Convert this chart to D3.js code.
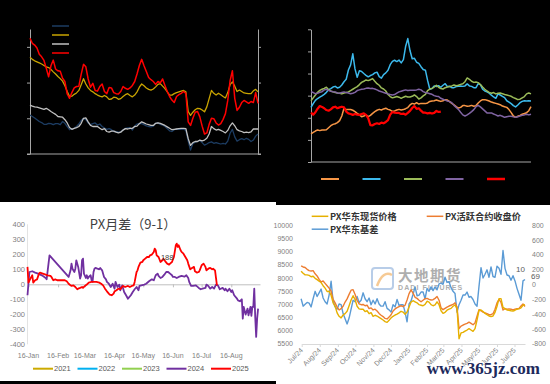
<!DOCTYPE html>
<html>
<head>
<meta charset="utf-8">
<script src="https://cdn.jsdelivr.net/npm/d3@7"></script>
<style>
  html, body { margin: 0; padding: 0; background: #000; }
  svg { display: block; }
</style>
</head>
<body>
<svg id="chart" width="550" height="384"></svg>
<script>
// ---------- top left: four price series on black (labels are black on black) ----------
const tlNavy = [1090,1050,1010,960,910,880,830,830,860,850,820,850,850,820,910,860,770,680,710,720,770,840,940,1000,960,870,820,850,870,810,840,770,730,690,710,680,630,630,610,620,670,720,730,740,670,780,840,860,850,820,790,770,760,780,860,870,830,810,770,710,650,630,680,700,690,690,700,660,360,110,290,330,350,380,320,250,280,320,340,300,320,300,280,300,280,360,580,690,480,360,400,430,400,440,410,350,390,500,560];
const tlGold = [2710,2650,2610,2580,2550,2520,2480,2440,2420,2370,2300,2240,2170,2110,2040,1910,1750,1610,1620,1670,1710,1780,1940,2110,1960,1850,1780,1740,1690,1650,1620,1600,1640,1600,1530,1540,1590,1580,1530,1550,1610,1660,1690,1640,1600,1650,1740,1870,1960,1910,1850,1810,1790,1820,1880,1950,1970,1900,1830,1740,1650,1650,1690,1720,1740,1760,1780,1740,1190,1080,1170,1240,1280,1270,1230,1180,1320,1550,1780,1700,1650,1700,1660,1610,1570,1720,1940,2020,1900,1750,1790,1750,1710,1700,1690,1690,1770,1810,1740];
const tlSilver = [1370,1340,1320,1310,1290,1270,1250,1280,1240,1190,1150,1110,1050,1040,1030,960,870,740,690,720,740,770,860,1000,1010,900,800,770,770,770,720,680,710,630,610,640,640,610,590,610,670,710,700,720,720,770,780,850,900,870,840,820,800,800,860,870,860,830,800,760,720,680,690,700,710,720,720,710,430,240,320,350,350,390,370,390,440,560,770,710,670,690,660,630,590,660,790,870,790,680,650,630,600,610,600,620,700,700,700];
const tlRed = [3240,3100,3050,2970,2790,2720,2620,2400,2160,2470,2630,2380,2330,2320,2120,2030,1680,1560,1720,1850,1890,1900,2230,2510,2440,2100,1870,1980,1780,1760,1890,1960,1750,1690,1860,1850,1720,1690,1680,1750,1890,1840,1810,1850,1920,2030,2240,2480,2650,2470,2310,2140,2080,2030,1950,2030,1990,2100,1920,1750,1610,1510,1440,1610,1660,1700,1750,1700,900,800,1000,1170,1190,1040,780,560,590,830,1000,990,870,810,850,970,1130,1500,2050,2330,1560,1220,1310,1440,1500,1460,1420,1470,1440,1720,1420];
const tlTicks = [0, 1000, 2000, 3000];

// ---------- top right: five yearly series ----------
const trOrange = [127,134,140,145,142,145,145,146,155,164,170,173,178,187,208,243,237,237,237,234,228,220,213,205,208,213,205,211,220,228,234,238,235,240,243,238,235,229,231,235,238,235,237,241,246,258,265,262,268,262,265,264,264,267,274,276,277,280,277,274,277,282,280,273,265,258,250,244,247,255,255,252,253,256,252,255,267,276,282,282,279,276,271,268,265,262,259,253,250,247,237,223,208,202,207,211,216,219,223,232,250];
const trBlue = [247,264,279,287,293,299,306,315,327,332,339,342,335,338,348,363,374,416,439,489,421,383,413,409,400,392,385,391,395,403,406,386,379,395,403,415,440,455,460,454,461,448,463,522,558,504,467,469,451,446,431,418,415,369,329,332,344,341,345,338,347,354,341,342,336,336,341,342,344,342,344,353,344,342,336,336,354,350,329,321,317,311,302,294,288,308,303,297,291,277,271,264,255,249,258,268,274,277,276,277,276];
const trGreen = [277,290,303,315,324,329,333,338,327,321,317,314,312,311,308,312,314,317,323,329,335,341,350,360,365,371,368,372,377,365,354,347,335,330,321,305,296,290,293,296,293,288,293,297,294,294,297,303,296,285,290,299,306,323,330,333,339,347,338,332,330,336,339,341,344,348,345,347,351,354,363,380,374,365,360,362,359,350,339,329,321,315,311,314,308,311,312,309,305,303,300,297,291,287,282,284,290,296,308,312,308];
const trPurple = [318,314,309,311,315,318,326,329,324,320,318,317,312,311,314,317,314,312,309,311,315,323,326,329,330,333,335,332,333,330,326,321,318,314,311,308,305,303,305,311,317,320,323,326,323,324,324,324,326,329,326,318,314,312,309,306,300,297,296,288,284,280,276,273,268,256,247,238,225,213,208,213,220,228,237,250,256,249,240,231,222,222,222,217,213,208,211,207,202,205,207,207,204,202,205,208,211,213,216,213,216];
const trRed = [223,214,225,241,253,249,243,235,232,238,247,250,243,247,250,247,228,220,217,213,217,214,213,217,220,213,198,167,166,172,175,172,178,175,181,189,214,226,223,222,222,217,219,214,222,231,244,253,240,243,232,223,223,220,222,219,222,231,226,228];
const trTicks = [0, 100, 200, 300, 400, 500, 600];

// ---------- bottom left: PX月差（9-1） ----------
const blYears = ["2021", "2022", "2023", "2024", "2025"];
const bl2024Dates = ["01-15","01-17","01-20","01-23","01-26","01-30","02-03","02-04","02-07","02-27","03-01","03-02","03-03","03-05","03-06","03-07","03-09","03-11","03-12","03-13","03-14","03-15","03-17","03-18","03-19","03-20","03-22","03-23","03-24","03-25","03-26","03-27","03-29","03-31","04-01","04-03","04-05","04-07","04-08","04-10","04-12","04-14","04-16","04-17","04-19","04-21","04-22","04-24","04-26","04-28","04-30","05-03","05-05","05-07","05-09","05-11","05-12","05-14","05-17","05-19","05-22","05-25","05-27","05-29","05-31","06-01","06-03","06-05","06-07","06-09","06-11","06-13","06-15","06-16","06-18","06-20","06-22","06-25","06-28","06-30","07-02","07-03","07-05","07-07","07-10","07-13","07-15","07-17","07-20","07-21","07-23","07-25","07-27","07-29","07-31","08-02","08-04","08-07","08-09","08-10","08-12","08-14","08-16","08-17","08-19","08-22","08-23","08-25","08-27","08-28","08-29","08-31","09-02","09-03","09-05","09-06","09-07","09-08","09-09","09-10","09-11","09-12","09-13"];
const bl2024Values = [-73,82,87,78,71,60,42,33,193,49,93,138,104,82,104,160,116,38,60,160,171,71,42,60,38,49,60,27,16,82,104,109,104,100,109,93,49,33,16,4,-18,4,-29,16,-18,-2,-40,-7,-51,-73,-96,-73,-51,-33,-18,-40,-11,-7,-2,4,20,33,27,60,71,56,42,49,64,82,82,71,60,49,49,42,49,56,51,60,42,16,-11,-11,-7,-24,-33,-29,-24,-2,-11,-29,-18,-29,-2,-7,-33,-24,-40,-29,-47,-29,-51,-40,-73,-96,-107,-113,-100,-229,-151,-202,-162,-207,-151,-211,-151,-151,-29,-218,-351,-229,-162];
const bl2025Dates = ["01-15","01-16","01-18","01-20","01-21","01-23","01-25","01-27","01-28","01-31","02-03","02-05","02-08","02-09","02-11","02-13","02-15","02-18","02-21","02-23","02-25","02-27","03-01","03-02","03-04","03-06","03-08","03-09","03-11","03-13","03-14","03-16","03-18","03-20","03-23","03-25","03-28","03-31","04-02","04-04","04-06","04-08","04-10","04-11","04-13","04-15","04-16","04-18","04-20","04-22","04-23","04-25","04-27","04-29","04-30","05-02","05-04","05-06","05-07","05-08","05-09","05-10","05-11","05-13","05-15","05-16","05-18","05-20","05-22","05-23","05-25","05-27","05-28","05-29","05-30","06-01","06-03","06-05","06-06","06-08","06-10","06-12","06-13","06-15","06-17","06-19","06-20","06-21","06-22","06-24","06-25","06-27","06-29","07-01","07-02","07-04","07-06","07-08","07-09","07-11","07-13","07-14","07-16","07-18","07-20","07-21","07-23","07-25","07-27","07-28","07-30","08-01"];
const bl2025Values = [116,11,38,60,11,27,33,71,78,71,64,60,56,49,27,33,27,27,27,27,20,4,-7,-11,-7,-18,-33,-29,-24,-18,-24,-11,-2,11,16,16,16,11,4,-7,-29,-47,-62,-69,-73,-62,-47,-40,-29,-33,-24,-11,-18,-13,-11,-18,-11,-7,16,49,82,93,116,144,149,160,171,182,182,193,198,216,238,227,193,182,149,160,171,153,138,131,138,149,182,260,271,249,260,227,216,204,182,160,138,100,109,116,87,78,82,93,127,138,116,93,104,109,100,104,93,-7];
const blTicks = [-400, -300, -200, -100, 0, 100, 200, 300, 400];
const blNote = { date: "06-10", value: 182, text: "188" };

// ---------- bottom right: PX spot, futures and basis ----------
const brNames = ["PX华东现货价格", "PX活跃合约收盘价", "PX华东基差"];
const brFirstDay = "2024-06-30", brLastDay = "2025-07-19";
const brSpot = [8260,8180,8120,8120,8100,8050,8070,7990,7940,7880,7830,7710,7620,7490,7500,7350,7060,6940,6680,6550,6490,6600,6650,6740,6950,7170,7330,7180,6930,6830,6820,6820,6730,6760,6650,6690,6550,6590,6560,6510,6460,6410,6350,6320,6400,6490,6550,6600,6630,6680,6740,6710,6630,6710,6900,7090,7140,7100,7060,6990,6970,6950,7000,7120,7090,6990,6950,6980,7100,6990,6760,6660,6700,6780,6820,6850,6930,6980,6840,5700,5920,5940,5990,6030,6080,6030,5980,6080,6410,6780,6790,6730,6660,6610,6560,6540,6560,6700,6930,7220,7220,6890,6840,6790,6780,6760,6750,6780,6820,6830,6870,6970,6990];
const brFutures = [8460,8420,8400,8330,8280,8270,8280,8160,8080,7950,7850,7890,7800,7710,7620,7500,7190,7060,6900,6790,6840,6930,7090,7210,7380,7540,7560,7380,7160,7020,6990,7000,6950,6970,6840,6870,6790,6820,6750,6660,6590,6540,6470,6450,6520,6610,6750,6830,6880,6920,6950,6920,6970,7170,7410,7550,7430,7270,7230,7160,7100,7160,7220,7230,7190,7170,7180,7230,7300,7160,6870,6800,6850,6900,6940,6970,7000,7060,6900,6080,6180,6220,6250,6280,6330,6280,6230,6300,6550,6800,6760,6710,6680,6650,6610,6610,6650,6820,7060,7190,7080,6790,6840,6820,6830,6820,6790,6820,6840,6850,6940,7020,6920];
const brBasis = [-190,-290,-265,-240,-250,-300,-190,-90,-160,-110,-60,-180,-230,-260,-140,45,-220,-300,-330,-260,-270,-390,-460,-530,-450,-330,-210,-230,-160,-240,-210,-110,-190,-230,-180,-270,-210,-260,-190,-260,-290,-290,-230,-320,-340,-370,-270,-300,-200,-280,-270,-270,-370,-500,-260,-220,-130,-30,-150,-140,-100,-100,-190,-50,-90,-30,-80,-30,-70,10,20,5,100,30,40,-40,-90,-120,-370,-270,-210,-140,-140,-100,-170,-160,-200,-260,-290,-20,230,90,140,200,100,240,110,100,250,220,140,460,220,130,120,60,120,50,-50,-130,-210,50,69];
const brPriceTicks = [5500,6000,6500,7000,7500,8000,8500,9000,9500,10000];
const brBasisTicks = [-800,-600,-400,-200,0,200,400,600,800];

// ---------- drawing ----------
const sans = "'Liberation Sans', Arial, sans-serif";
const cjk = "'Noto Sans CJK SC', 'Noto Sans', sans-serif";
const svg = d3.select("#chart");

svg.append("rect").attr("width", 550).attr("height", 384).attr("fill", "#000");

function drawLine(g, values, x, y, color, width) {
  g.append("path").datum(values)
    .attr("fill", "none")
    .attr("stroke", color)
    .attr("stroke-width", width)
    .attr("stroke-linejoin", "round")
    .attr("d", d3.line().x((d, i) => x(i)).y(d => y(d)));
}

function styleAxis(g, color) {
  g.select(".domain").attr("stroke", color);
  g.selectAll(".tick line").attr("stroke", color);
  g.selectAll(".tick text").remove();
}

// top left panel
{
  const g = svg.append("g");
  const x = d3.scaleLinear().domain([0, tlRed.length - 1]).range([30, 258]);
  const y = d3.scaleLinear().domain([0, 3500]).range([154, 29]);
  const axisColor = "#a6a6a6";

  g.append("g").attr("transform", "translate(30,0)")
    .call(d3.axisLeft(y).tickValues(tlTicks).tickSize(3).tickSizeOuter(0))
    .call(a => styleAxis(a, axisColor));
  g.append("g").attr("transform", "translate(258,0)")
    .call(d3.axisRight(y).tickValues(tlTicks).tickSize(3).tickSizeOuter(0))
    .call(a => styleAxis(a, axisColor));
  g.append("line").attr("x1", 27).attr("x2", 261).attr("y1", y(0)).attr("y2", y(0))
    .attr("stroke", axisColor);

  const series = [
    { v: tlNavy, c: "#1c3c62", w: 1.3 },
    { v: tlSilver, c: "#c0c0c0", w: 1.3 },
    { v: tlGold, c: "#c9a400", w: 1.3 },
    { v: tlRed, c: "#ff0000", w: 1.5 }
  ];
  series.forEach(s => drawLine(g, s.v, x, y, s.c, s.w));

  [series[0], series[2], series[1], series[3]].forEach((s, i) => {
    g.append("line").attr("x1", 52).attr("x2", 69)
      .attr("y1", 26 + i * 9).attr("y2", 26 + i * 9)
      .attr("stroke", s.c).attr("stroke-width", 1.5);
  });
}

// top right panel
{
  const g = svg.append("g");
  const x = d3.scaleLinear().domain([0, trBlue.length - 1]).range([311, 531]);
  const y = d3.scaleLinear().domain([0, 600]).range([162, 29.3]);
  const axisColor = "#a6a6a6";

  g.append("g").attr("transform", "translate(311,0)")
    .call(d3.axisLeft(y).tickValues(trTicks).tickSize(3).tickSizeOuter(0))
    .call(a => styleAxis(a, axisColor));
  g.append("line").attr("x1", 311).attr("x2", 531).attr("y1", y(0)).attr("y2", y(0))
    .attr("stroke", axisColor);

  const series = [
    { v: trOrange, c: "#f79646", w: 1.5 },
    { v: trBlue, c: "#3cb9ec", w: 1.5 },
    { v: trGreen, c: "#9bbb59", w: 1.5 },
    { v: trPurple, c: "#8064a2", w: 1.5 },
    { v: trRed, c: "#ff0000", w: 2.2 }
  ];
  series.forEach(s => drawLine(g, s.v, x, y, s.c, s.w));

  series.forEach((s, i) => {
    g.append("line").attr("x1", 321 + i * 41.5).attr("x2", 339 + i * 41.5)
      .attr("y1", 179).attr("y2", 179)
      .attr("stroke", s.c).attr("stroke-width", i === 4 ? 2.5 : 2);
  });
}

// bottom left panel
{
  const g = svg.append("g");
  g.append("rect").attr("x", 0).attr("y", 202).attr("width", 276).attr("height", 179).attr("fill", "#fff");

  const parse = s => { const [m, d] = s.split("-").map(Number); return new Date(2025, m - 1, d); };
  const x = d3.scaleTime().domain([new Date(2025, 0, 15), new Date(2025, 8, 15)]).range([27.5, 260]);
  const y = d3.scaleLinear().domain([-400, 400]).range([344.3, 224.3]);
  const labelColor = "#7f7f7f";

  g.append("text").attr("x", 133).attr("y", 229)
    .attr("text-anchor", "middle").attr("font-family", cjk).attr("font-size", 13)
    .attr("fill", "#404040").text("PX月差（9-1）");

  g.append("line").attr("x1", 27.5).attr("x2", 27.5).attr("y1", y(400)).attr("y2", y(-400))
    .attr("stroke", "#d9d9d9").attr("stroke-width", 0.75);

  g.selectAll(".yl").data(blTicks).join("text")
    .attr("x", 25).attr("y", d => y(d)).attr("dy", "0.35em")
    .attr("text-anchor", "end").attr("font-family", sans).attr("font-size", 7.5)
    .attr("fill", labelColor).text(d => d);

  const months = d3.range(0, 8).map(m => new Date(2025, m, 16));
  g.append("g").attr("transform", `translate(0,${y(0)})`)
    .call(d3.axisBottom(x).tickValues(months).tickSize(3).tickSizeOuter(0))
    .call(a => styleAxis(a, "#bfbfbf"));
  g.selectAll(".xl").data(months).join("text")
    .attr("x", d => x(d)).attr("y", 358)
    .attr("text-anchor", "middle").attr("font-family", sans).attr("font-size", 7)
    .attr("fill", labelColor).text(d3.timeFormat("%d-%b"));

  const line = d3.line().x(d => x(parse(d[0]))).y(d => y(d[1]));
  g.append("path").datum(d3.zip(bl2024Dates, bl2024Values))
    .attr("fill", "none").attr("stroke", "#7030a0").attr("stroke-width", 1.8)
    .attr("stroke-linejoin", "round").attr("d", line);
  g.append("path").datum(d3.zip(bl2025Dates, bl2025Values))
    .attr("fill", "none").attr("stroke", "#ff0000").attr("stroke-width", 1.8)
    .attr("stroke-linejoin", "round").attr("d", line);

  g.append("text").attr("x", x(parse(blNote.date))).attr("y", y(blNote.value)).attr("dy", "0.35em")
    .attr("text-anchor", "middle").attr("font-family", sans).attr("font-size", 7.5)
    .attr("fill", "#404040").text(blNote.text);

  const legendColors = ["#ccaa00", "#00b0f0", "#92d050", "#7030a0", "#ff0000"];
  blYears.forEach((name, i) => {
    const lx = 33 + i * 44.5;
    g.append("line").attr("x1", lx).attr("x2", lx + 20).attr("y1", 368.7).attr("y2", 368.7)
      .attr("stroke", legendColors[i]).attr("stroke-width", 2);
    g.append("text").attr("x", lx + 21).attr("y", 368.7).attr("dy", "0.35em")
      .attr("font-family", sans).attr("font-size", 7.5).attr("fill", "#595959").text(name);
  });
}

// bottom right panel
{
  const g = svg.append("g");
  g.append("rect").attr("x", 276).attr("y", 205).attr("width", 274).attr("height", 179).attr("fill", "#fff");

  const first = new Date(brFirstDay), last = new Date(brLastDay);
  const dates = brSpot.map((_, i) => new Date(+first + (last - first) * i / (brSpot.length - 1)));
  const x = d3.scaleTime().domain([new Date("2024-07-01"), new Date("2025-07-19")]).range([301.7, 525]);
  const yL = d3.scaleLinear().domain([5500, 10000]).range([344, 225.3]);
  const yR = d3.scaleLinear().domain([-800, 800]).range([344, 225.3]);
  const labelColor = "#7f7f7f";

  // watermark
  const wm = g.append("g").attr("opacity", 0.55);
  wm.append("rect").attr("x", 372).attr("y", 268).attr("width", 21).attr("height", 21).attr("rx", 3)
    .attr("fill", "none").attr("stroke", "#7fa6d6").attr("stroke-width", 2);
  wm.append("path").attr("d", "M377,286 Q383,270 392,275").attr("fill", "none")
    .attr("stroke", "#f0a040").attr("stroke-width", 2.5);
  wm.append("text").attr("x", 398).attr("y", 280.5).attr("font-family", cjk).attr("font-size", 14.5)
    .attr("font-weight", "bold").attr("fill", "#6d6d6d").attr("letter-spacing", 1.5).text("大地期货");
  wm.append("text").attr("x", 398).attr("y", 290).attr("font-family", sans).attr("font-size", 7)
    .attr("font-weight", "bold").attr("fill", "#6d6d6d").attr("letter-spacing", 1.1).text("DADI FUTURES");

  g.selectAll(".yl").data(brPriceTicks).join("text")
    .attr("x", 293).attr("y", d => yL(d)).attr("dy", "0.35em")
    .attr("text-anchor", "end").attr("font-family", sans).attr("font-size", 7)
    .attr("fill", labelColor).text(d => d);
  g.selectAll(".yr").data(brBasisTicks).join("text")
    .attr("x", 532).attr("y", d => yR(d)).attr("dy", "0.35em")
    .attr("text-anchor", "start").attr("font-family", sans).attr("font-size", 7)
    .attr("fill", labelColor).text(d => d);

  const months = d3.timeMonth.range(new Date("2024-07-01T00:00"), new Date("2025-07-02T00:00"));
  g.append("g").attr("transform", "translate(0,344)")
    .call(d3.axisBottom(x).tickValues(months).tickSize(3).tickSizeOuter(0))
    .call(a => styleAxis(a, "#d9d9d9"));
  g.selectAll(".xl").data(months).join("text")
    .attr("transform", d => `translate(${x(d)},349) rotate(-45)`)
    .attr("text-anchor", "end").attr("dy", "0.35em")
    .attr("font-family", sans).attr("font-size", 7)
    .attr("fill", labelColor).text(d3.timeFormat("%b/%y"));

  const lineL = d3.line().x((d, i) => x(dates[i])).y(d => yL(d));
  const lineR = d3.line().x((d, i) => x(dates[i])).y(d => yR(d));
  g.append("path").datum(brBasis).attr("fill", "none").attr("stroke", "#5b9bd5")
    .attr("stroke-width", 1.4).attr("stroke-linejoin", "round").attr("d", lineR);
  g.append("path").datum(brFutures).attr("fill", "none").attr("stroke", "#ed7d31")
    .attr("stroke-width", 1.4).attr("stroke-linejoin", "round").attr("d", lineL);
  g.append("path").datum(brSpot).attr("fill", "none").attr("stroke", "#e6b000")
    .attr("stroke-width", 1.4).attr("stroke-linejoin", "round").attr("d", lineL);

  const n = brBasis.length - 1;
  g.append("text").attr("x", x(dates[n]) + 6).attr("y", yR(brBasis[n]) - 3).attr("dy", "0.35em")
    .attr("font-family", sans).attr("font-size", 8).attr("fill", "#595959").text(brBasis[n]);
  g.append("text").attr("x", x(dates[n - 4]) - 1).attr("y", yR(205)).attr("dy", "0.35em")
    .attr("font-family", sans).attr("font-size", 8).attr("fill", "#595959").text("10");

  const legend = [
    { name: brNames[0], c: "#e6b000", lx: 311.7, ly: 216.3 },
    { name: brNames[1], c: "#ed7d31", lx: 426.7, ly: 216.3 },
    { name: brNames[2], c: "#5b9bd5", lx: 311.7, ly: 229.2 }
  ];
  legend.forEach(l => {
    g.append("line").attr("x1", l.lx).attr("x2", l.lx + 16.6).attr("y1", l.ly).attr("y2", l.ly)
      .attr("stroke", l.c).attr("stroke-width", 1.5);
    g.append("text").attr("x", l.lx + 18.3).attr("y", l.ly).attr("dy", "0.36em")
      .attr("font-family", cjk).attr("font-size", 9.2).attr("font-weight", "bold")
      .attr("fill", "#333").text(l.name);
  });

  g.append("text").attr("x", 426.7).attr("y", 374)
    .attr("font-family", "'Liberation Serif', 'DejaVu Serif', serif").attr("font-size", 17)
    .attr("font-weight", "bold").attr("fill", "#1d2a5c")
    .attr("stroke", "#fff").attr("stroke-width", 0.6).attr("paint-order", "stroke")
    .text("www.365jz.com");
}

// bottom strip under the left panel
svg.append("rect").attr("x", 0).attr("y", 381).attr("width", 276).attr("height", 3).attr("fill", "#000");
</script>
</body>
</html>
